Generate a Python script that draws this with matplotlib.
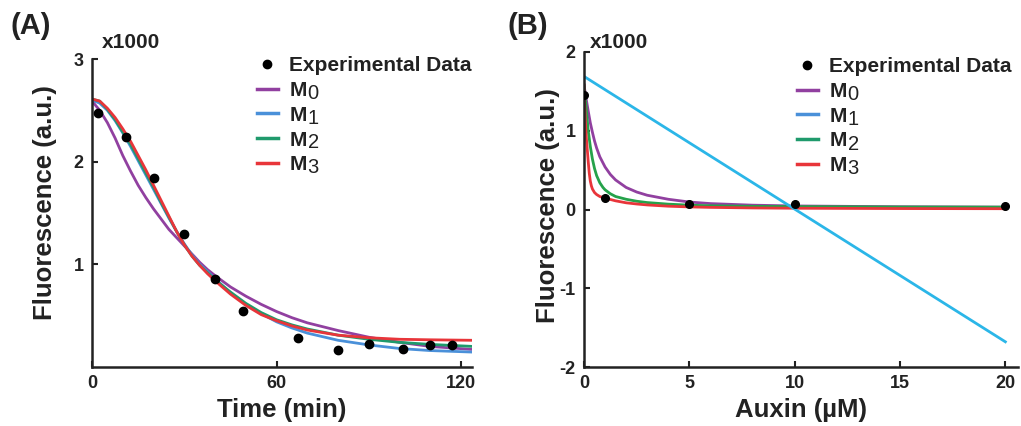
import matplotlib
matplotlib.use("Agg")
import matplotlib.pyplot as plt
from matplotlib.lines import Line2D

plt.rcParams['font.family'] = ['Liberation Sans', 'DejaVu Sans']
plt.rcParams['axes.unicode_minus'] = False

# ---- Panel A: time course ----
time_data = [2, 11, 20, 30, 40, 49, 67, 80, 90, 101, 110, 117]
fluor_data = [2.47, 2.24, 1.84, 1.30, 0.86, 0.55, 0.28, 0.17, 0.22, 0.18, 0.21, 0.21]

time_model = [0, 2.5, 5, 7.5, 10, 12.5, 15, 17.5, 20, 22.5, 25, 27.5, 30, 32.5, 35, 37.5,
              40, 45, 50, 55, 60, 65, 70, 80, 90, 100, 110, 124]
a_m0 = [2.59, 2.50, 2.38, 2.23, 2.06, 1.91, 1.77, 1.65, 1.54, 1.44, 1.34, 1.26, 1.18, 1.10,
        1.02, 0.95, 0.89, 0.78, 0.69, 0.61, 0.54, 0.48, 0.43, 0.355, 0.29, 0.24, 0.20, 0.17]
a_m1 = [2.60, 2.57, 2.50, 2.40, 2.28, 2.15, 2.01, 1.87, 1.73, 1.59, 1.45, 1.32, 1.20, 1.09,
        1.00, 0.93, 0.86, 0.72, 0.61, 0.52, 0.44, 0.38, 0.33, 0.26, 0.215, 0.18, 0.16, 0.145]
a_m2 = [2.61, 2.59, 2.51, 2.41, 2.29, 2.17, 2.03, 1.89, 1.75, 1.60, 1.46, 1.32, 1.19, 1.08,
        0.99, 0.92, 0.85, 0.73, 0.62, 0.53, 0.46, 0.41, 0.37, 0.31, 0.27, 0.24, 0.22, 0.20]
a_m3 = [2.61, 2.59, 2.52, 2.43, 2.32, 2.20, 2.06, 1.92, 1.77, 1.62, 1.47, 1.32, 1.19, 1.08,
        0.99, 0.91, 0.84, 0.71, 0.60, 0.51, 0.45, 0.40, 0.36, 0.31, 0.285, 0.27, 0.265, 0.26]

# ---- Panel B: auxin dose response ----
auxin_data = [0, 1, 5, 10, 20]
dose_data = [1.46, 0.14, 0.07, 0.07, 0.05]

auxin_m0 = [0, 0.1, 0.2, 0.3, 0.4, 0.5, 0.6, 0.75, 1.0, 1.25, 1.5, 2, 2.5, 3, 4, 5, 6, 8,
            10, 15, 20]
b_m0 = [1.58, 1.41, 1.25, 1.10, 0.98, 0.87, 0.78, 0.67, 0.54, 0.445, 0.375, 0.28, 0.222,
        0.181, 0.13, 0.095, 0.075, 0.055, 0.045, 0.035, 0.03]
auxin_m1 = [0, 20]
b_m1 = [1.69, -1.68]
auxin_m2 = [0, 0.05, 0.1, 0.15, 0.2, 0.3, 0.4, 0.5, 0.6, 0.75, 0.9, 1.0, 1.25, 1.5, 2, 2.5,
            3, 4, 5, 6, 8, 10, 15, 20]
b_m2 = [1.58, 1.43, 1.30, 1.15, 1.00, 0.80, 0.64, 0.52, 0.43, 0.34, 0.28, 0.25, 0.20, 0.165,
        0.13, 0.105, 0.088, 0.068, 0.055, 0.047, 0.04, 0.037, 0.032, 0.03]
auxin_m3 = [0, 0.03, 0.06, 0.1, 0.15, 0.2, 0.25, 0.3, 0.35, 0.4, 0.5, 0.6, 0.75, 1.0, 1.5,
            2, 2.5, 3, 4, 5, 6, 8, 10, 15, 20]
b_m3 = [1.58, 1.36, 1.15, 0.95, 0.78, 0.61, 0.46, 0.36, 0.30, 0.26, 0.215, 0.19, 0.165,
        0.145, 0.11, 0.085, 0.07, 0.058, 0.042, 0.033, 0.027, 0.02, 0.016, 0.012, 0.01]

model_names = ['M', 'M', 'M', 'M']
model_index = ['0', '1', '2', '3']
c_purple = '#9140A0'
c_blue = '#4A90D9'
c_green = '#1F9A6C'
c_red = '#E8353A'
c_cyan = '#2BB6E8'
ink = '#222222'

W, H = 1021, 426
fig = plt.figure(figsize=(W / 100, H / 100), dpi=100)
axA = fig.add_axes([92 / W, 1 - 367 / H, (472 - 92) / W, (367 - 59) / H])
axB = fig.add_axes([584 / W, 1 - 367 / H, (1018 - 584) / W, (367 - 52) / H])

lw = 2.0
axA.plot(time_model, a_m0, color=c_purple, lw=lw)
axA.plot(time_model, a_m1, color=c_blue, lw=lw)
axA.plot(time_model, a_m2, color=c_green, lw=lw)
axA.plot(time_model, a_m3, color=c_red, lw=lw)
axA.plot(time_data, fluor_data, 'o', color='black', ms=6, zorder=5)

axB.plot(auxin_m0, b_m0, color=c_purple, lw=lw)
axB.plot(auxin_m2, b_m2, color='#25A24A', lw=lw)
axB.plot(auxin_m3, b_m3, color=c_red, lw=lw)
axB.plot(auxin_m1, b_m1, color=c_cyan, lw=lw)
axB.plot(auxin_data, dose_data, 'o', color='black', ms=5.5, zorder=5)

axA.set_xlim(0, 123.5)
axA.set_ylim(0, 3)
axA.set_xticks([0, 60, 120])
axA.set_yticks([1, 2, 3])
axA.set_xlabel('Time (min)', fontsize=18.5, fontweight='bold', labelpad=4, color=ink)
axA.set_ylabel('Fluorescence (a.u.)', fontsize=18.5, fontweight='bold', labelpad=12, color=ink)
axA.yaxis.label.set_y(0.534)

axB.set_xlim(0, 20.6)
axB.set_ylim(-2, 2)
axB.set_xticks([0, 5, 10, 15, 20])
axB.set_yticks([-2, -1, 0, 1, 2])
axB.set_xlabel('Auxin (\u00b5M)', fontsize=18.5, fontweight='bold', labelpad=4, color=ink)
axB.set_ylabel('Fluorescence (a.u.)', fontsize=18.5, fontweight='bold', labelpad=0, color=ink)
axB.yaxis.label.set_y(0.514)

for ax in (axA, axB):
    for side in ('top', 'right'):
        ax.spines[side].set_visible(False)
    for side in ('left', 'bottom'):
        ax.spines[side].set_linewidth(1.8)
        ax.spines[side].set_color(ink)
    ax.tick_params(direction='in', length=4, width=1.5, labelsize=13, pad=6, colors=ink)
    for lab in ax.get_xticklabels() + ax.get_yticklabels():
        lab.set_fontweight('bold')

handles = [Line2D([], [], ls='none', marker='o', color='black', ms=6),
           Line2D([], [], color=c_purple, lw=2.5),
           Line2D([], [], color=c_blue, lw=2.5),
           Line2D([], [], color=c_green, lw=2.5),
           Line2D([], [], color=c_red, lw=2.5)]
labels = ['Experimental Data'] + model_names

leg_kw = dict(frameon=False, loc='upper left', borderpad=0, borderaxespad=0,
              handlelength=1.0, handletextpad=0.55, labelspacing=0.28,
              prop={'size': 15, 'weight': 'bold'})
legA = fig.legend(handles, labels, bbox_to_anchor=(257 / W, 1 - 56 / H), **leg_kw)
legB = fig.legend(handles, labels, bbox_to_anchor=(797 / W, 1 - 57 / H), **leg_kw)
for leg in (legA, legB):
    for txt in leg.get_texts():
        txt.set_color(ink)

# model index digits: lowered, regular weight, placed right after each legend "M"
fig.canvas.draw()
renderer = fig.canvas.get_renderer()
for leg in (legA, legB):
    for txt, idx in zip(leg.get_texts()[1:], model_index):
        bb = txt.get_window_extent(renderer)
        fig.text((bb.x1 + 1) / W, (bb.y0 - 3) / H, idx, fontsize=14.5,
                 ha='left', va='bottom', color=ink)

fig.text(102 / W, 1 - 43 / H, 'x1000', fontsize=15, fontweight='bold', va='center', color=ink)
fig.text(590 / W, 1 - 43 / H, 'x1000', fontsize=15, fontweight='bold', va='center', color=ink)
fig.text(11 / W, 1 - 26 / H, '(A)', fontsize=21, fontweight='bold', va='center', color=ink)
fig.text(507 / W, 1 - 26 / H, '(B)', fontsize=21, fontweight='bold', va='center', color=ink)

fig.savefig('out.png', dpi=100)
